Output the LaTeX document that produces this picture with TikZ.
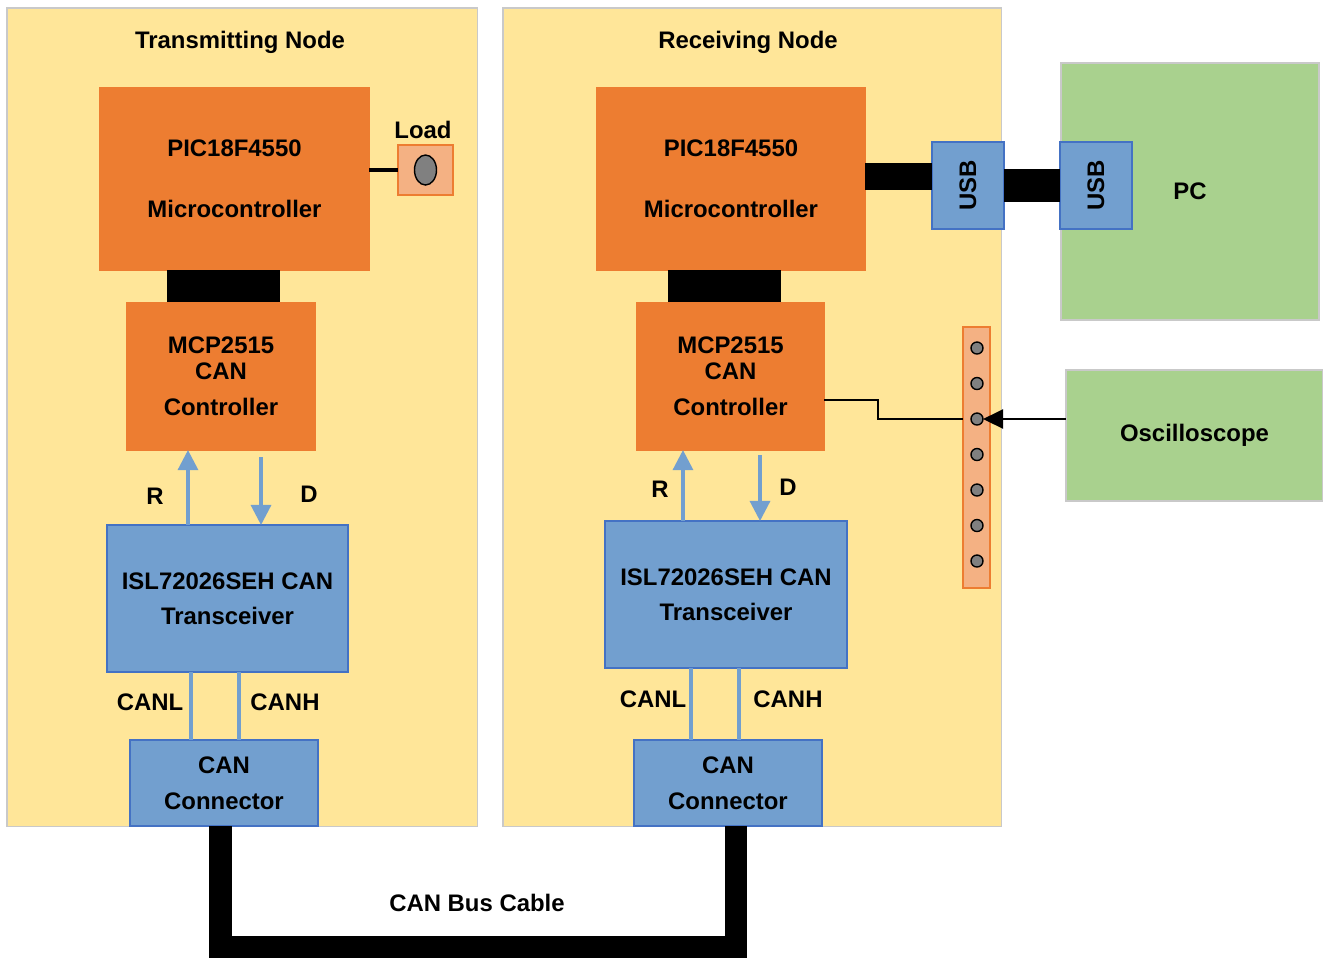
\documentclass[tikz,border=0pt]{standalone}
\usepackage{fontspec}
\setmainfont{Liberation Sans}
\usetikzlibrary{arrows.meta, shapes.geometric, positioning, calc}
\definecolor{panelfill}{HTML}{FFE699}
\definecolor{panelline}{HTML}{C9C9C9}
\definecolor{chiporange}{HTML}{ED7D31}
\definecolor{boxblue}{HTML}{729FCF}
\definecolor{boxline}{HTML}{4472C4}
\definecolor{pcgreen}{HTML}{A9D18E}
\definecolor{padsalmon}{HTML}{F4B183}

\begin{document}
\begin{tikzpicture}[x=0.01cm, y=-0.01cm, every node/.style={font=\bfseries\fontsize{6.8}{7.4}\selectfont, align=center, inner sep=0pt, outer sep=0pt}]
\tikzstyle{panel}=[draw=panelline, fill=panelfill, anchor=north west]
\tikzstyle{chip}=[fill=chiporange, draw=chiporange]
\tikzstyle{blok}=[fill=boxblue, draw=boxline, line width=0.5pt]
\tikzstyle{host}=[fill=pcgreen, draw=panelline]
\tikzstyle{pad}=[fill=padsalmon, draw=chiporange, line width=0.4pt]
\tikzstyle{header}=[fill=black, minimum width=1.13cm, minimum height=0.33cm]
\tikzstyle{pin}=[circle, draw, fill=gray, minimum size=0.12cm, line width=0.4pt]
\tikzstyle{sig}=[draw=boxblue, line width=0.9pt, -{Triangle[width=0.2cm,length=0.2cm]}]
\tikzstyle{wire}=[draw=boxblue, line width=0.9pt]
\tikzstyle{buscable}=[line width=0.22cm, line join=miter]

\useasboundingbox (0,0) rectangle (1323,959);

% panels
\node (tx) [panel, minimum width=4.70cm, minimum height=8.18cm] at (7,8) {};
\node (rx) [panel, minimum width=4.98cm, minimum height=8.18cm] at (503,8) {};
\node at (240,42) {Transmitting Node};
\node at (748,42) {Receiving Node};

% transmitting node
\node (txpic) [chip, minimum width=2.69cm, minimum height=1.82cm] at (234.5,179) {PIC18F4550\\[0.35cm]Microcontroller};
\node (txbar) [header] at (223.5,286.5) {};
\node (txmcp) [chip, minimum width=1.88cm, minimum height=1.47cm] at (221,376.5) {MCP2515\\CAN\\[0.1cm]Controller};
\node (txisl) [blok, minimum width=2.41cm, minimum height=1.47cm] at (227.5,598.5) {ISL72026SEH CAN\\[0.09cm]Transceiver};
\node (txconn) [blok, minimum width=1.88cm, minimum height=0.86cm] at (224,783) {CAN\\[0.1cm]Connector};

\node (load) [pad, minimum width=0.55cm, minimum height=0.5cm] at (425.5,170) {};
\node (knob) [ellipse, draw, fill=gray, minimum width=0.22cm, minimum height=0.3cm, line width=0.4pt] at (load.center) {};
\node at (423,130) {Load};
\draw [line width=1.1pt] (txpic.east |- load.west) -- (load.west);

\draw [sig] ([xshift=-0.395cm]txisl.north) -- ([xshift=-0.395cm]txisl.north |- txmcp.south);
\draw [sig] ([xshift=0.335cm,yshift=-0.07cm]txisl.north |- txmcp.south) -- ([xshift=0.335cm]txisl.north);
\node at (155,496) {R};
\node at (309,494) {D};
\draw [wire] ([xshift=-0.365cm]txisl.south) -- ([xshift=-0.365cm]txisl.south |- txconn.north);
\draw [wire] ([xshift=0.115cm]txisl.south) -- ([xshift=0.115cm]txisl.south |- txconn.north);
\node at (150,702) {CANL};
\node at (285,702) {CANH};

% receiving node
\node (rxpic) [chip, minimum width=2.68cm, minimum height=1.82cm] at (731,179) {PIC18F4550\\[0.35cm]Microcontroller};
\node (rxbar) [header] at (724.5,286.5) {};
\node (rxmcp) [chip, minimum width=1.87cm, minimum height=1.47cm] at (730.5,376.5) {MCP2515\\CAN\\[0.1cm]Controller};
\node (rxisl) [blok, minimum width=2.42cm, minimum height=1.47cm] at (726,594.5) {ISL72026SEH CAN\\[0.09cm]Transceiver};
\node (rxconn) [blok, minimum width=1.88cm, minimum height=0.86cm] at (728,783) {CAN\\[0.1cm]Connector};

\draw [sig] ([xshift=-0.43cm]rxisl.north) -- ([xshift=-0.43cm]rxisl.north |- rxmcp.south);
\draw [sig] ([xshift=0.34cm,yshift=-0.05cm]rxisl.north |- rxmcp.south) -- ([xshift=0.34cm]rxisl.north);
\node at (660,489) {R};
\node at (788,487) {D};
\draw [wire] ([xshift=-0.35cm]rxisl.south) -- ([xshift=-0.35cm]rxisl.south |- rxconn.north);
\draw [wire] ([xshift=0.13cm]rxisl.south) -- ([xshift=0.13cm]rxisl.south |- rxconn.north);
\node at (653,699) {CANL};
\node at (788,699) {CANH};

% pc side
\node (pc) [host, minimum width=2.58cm, minimum height=2.57cm] at (1190,191.5) {PC};
\node (usb1) [blok, minimum width=0.72cm, minimum height=0.87cm] at (968,185.5) {\rotatebox{90}{USB}};
\node (usb2) [blok, minimum width=0.72cm, minimum height=0.87cm] at (1096,185.5) {\rotatebox{90}{USB}};
\coordinate (usbin) at ($(usb1.west)+(0,-9)$);
\draw [line width=0.27cm] (rxpic.east |- usbin) -- (usbin);
\draw [line width=0.33cm] (usb1.east) -- (usb2.west);

% probe strip
\node (osc) [host, minimum width=2.57cm, minimum height=1.31cm] at (1194.5,435.5) {Oscilloscope};
\node (strip) [pad, minimum width=0.27cm, minimum height=2.61cm] at (976.5,457.5) {};
\foreach \i in {0,...,6}
  \node (pin\i) [pin] at (977,348+35.5*\i) {};
\draw [line width=0.6pt] ([yshift=-0.235cm]rxmcp.east) -- ++(54,0) |- (strip.west |- pin2);
\draw [line width=0.6pt, -{Triangle[width=0.19cm,length=0.2cm]}] (osc.west |- pin2) -- (pin2.east);

% bus cable
\draw [buscable] ([xshift=-0.035cm]txconn.south) -- ++(0,120.5) -| ([xshift=0.08cm]rxconn.south);
\node at (477,903) {CAN Bus Cable};
\end{tikzpicture}
\end{document}
